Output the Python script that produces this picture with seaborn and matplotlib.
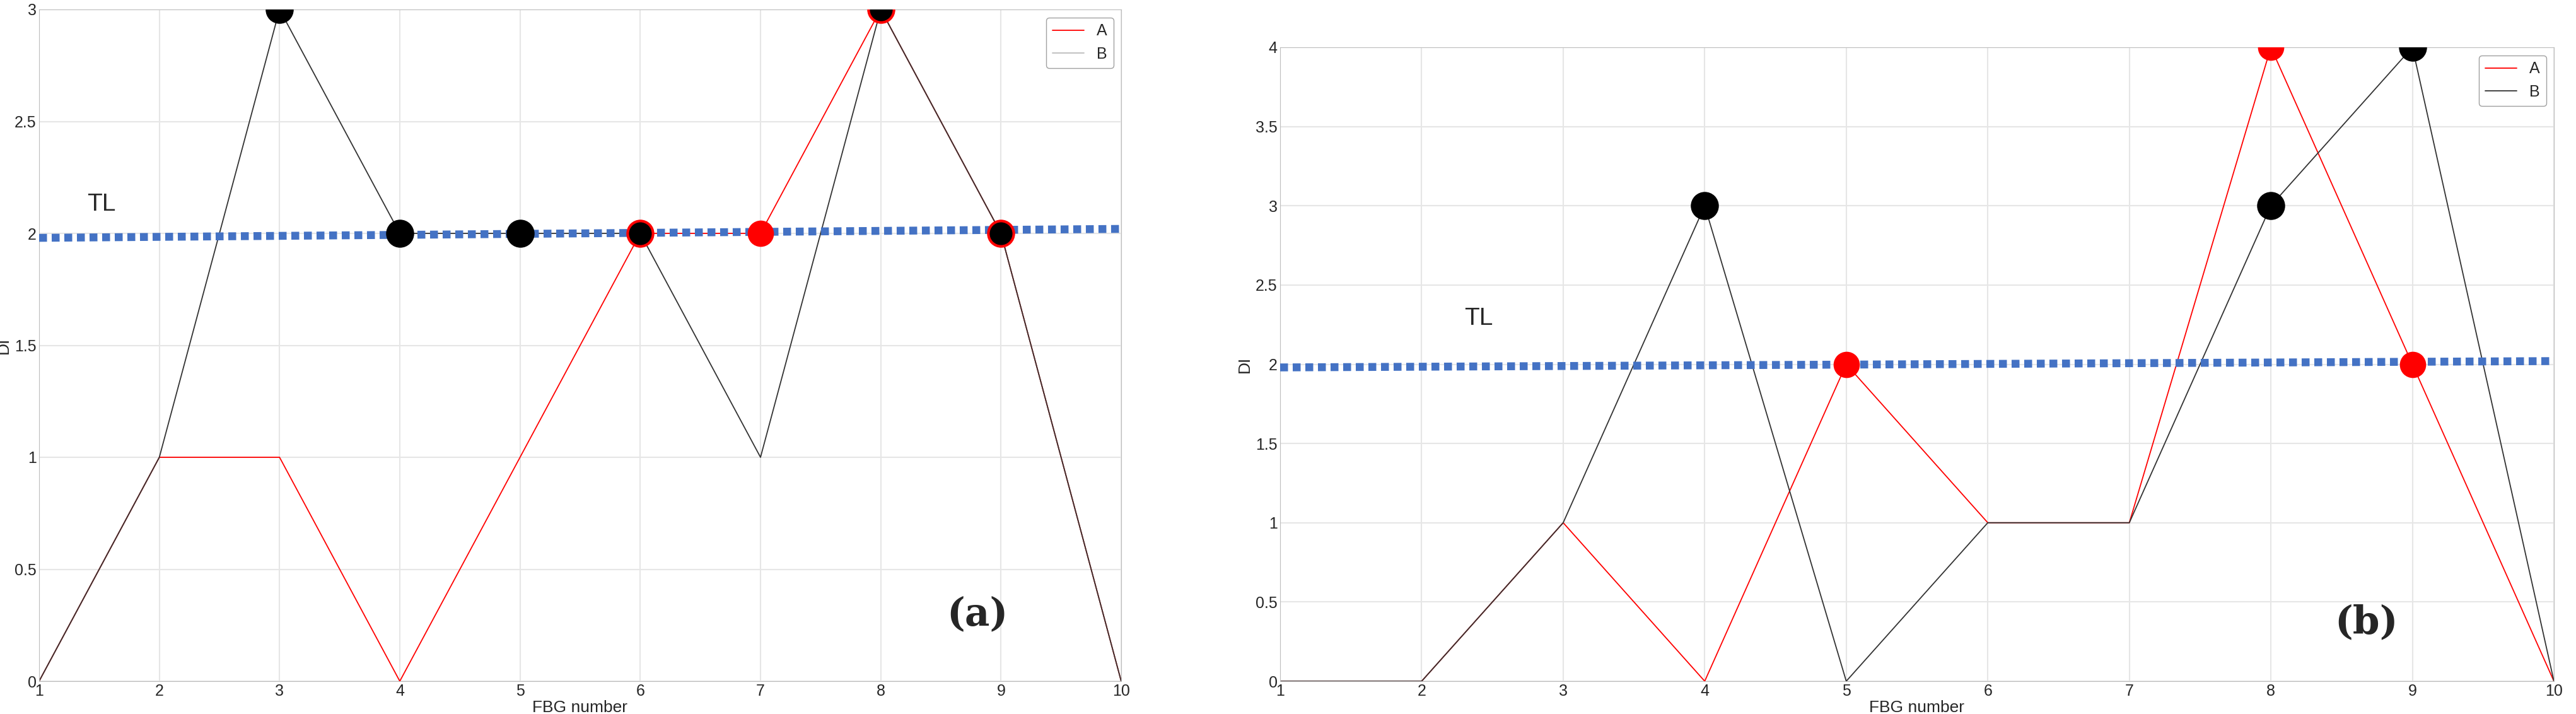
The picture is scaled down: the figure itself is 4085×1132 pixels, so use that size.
import matplotlib
matplotlib.use("Agg")
import matplotlib.pyplot as plt
import seaborn as sns
import pandas as pd

fbg = list(range(1, 11))
a_A = [0, 1, 1, 0, 1, 2, 2, 3, 2, 0]
a_B = [0, 1, 3, 2, 2, 2, 1, 3, 2, 0]
a_red_x = [6, 7, 8, 9]; a_red_y = [2, 2, 3, 2]
a_blk_x = [3, 4, 5, 6, 8, 9]; a_blk_y = [3, 2, 2, 2, 3, 2]
b_A = [0, 0, 1, 0, 2, 1, 1, 4, 2, 0]
b_B = [0, 0, 1, 3, 0, 1, 1, 3, 4, 0]
b_red_x = [5, 8, 9]; b_red_y = [2, 4, 2]
b_blk_x = [4, 8, 9]; b_blk_y = [3, 3, 4]
TL = 2

sns.set_style("white")
plt.rcParams['font.family'] = ['Liberation Sans', 'DejaVu Sans']
fig = plt.figure(figsize=(40.85, 11.32), dpi=100)
ax1 = fig.add_axes([62/4085, 52/1132, (1778-62)/4085, (1080-15)/1132])
ax2 = fig.add_axes([2030/4085, 52/1132, (4050-2030)/4085, (1080-75)/1132])

def panel(ax, A, B, rx, ry, bx, by, ymax, label, tlx, tly, lx, ly, ringed, legcol):
    df = pd.DataFrame({"x": fbg * 2, "y": A + B, "s": ["A"] * 10 + ["B"] * 10})
    sns.lineplot(data=df, x="x", y="y", hue="s", palette={"A": "red", "B": legcol}, lw=1.3, ax=ax)
    ax.lines[1].set_color("#333333")
    ax.plot([1, 10], [TL - 0.02, TL + 0.02], ls=(0, (1, 0.6)), color="#4472c4", lw=9, zorder=3)
    for x, y in zip(bx, by):
        ec = "red" if (x, y) in ringed else "black"
        ax.plot(x, y, 'o', ms=29, mfc="black", mec=ec, mew=3, zorder=5)
    for x, y in zip(rx, ry):
        if (x, y) not in ringed:
            ax.plot(x, y, 'o', ms=29, color="red", zorder=4)
    ax.set_xlim(1, 10); ax.set_ylim(0, ymax)
    ax.set_xticks(fbg)
    ticks = [i * 0.5 for i in range(int(ymax * 2) + 1)]
    ax.set_yticks(ticks)
    ax.set_yticklabels([f"{t:g}" for t in ticks])
    ax.grid(True, color="#e6e6e6", lw=1.5)
    ax.tick_params(labelsize=18, colors="#262626", length=0, pad=3)
    ax.set_xlabel("FBG number", fontsize=19, color="#262626", labelpad=1)
    ax.set_ylabel("DI", fontsize=19, color="#262626", labelpad=4)
    for s in ax.spines.values():
        s.set_color("#bdbdbd")
    ax.text(tlx, tly, "TL", fontsize=28)
    ax.text(lx, ly, label, fontsize=44, fontweight="bold", family="DejaVu Serif")
    leg = ax.legend(loc="upper right", fontsize=18, frameon=True, handlelength=2)
    leg.get_frame().set_edgecolor("#888888")

panel(ax1, a_A, a_B, a_red_x, a_red_y, a_blk_x, a_blk_y, 3, "(a)", 1.4, 2.1, 8.55, 0.25,
      {(8, 3), (9, 2), (6, 2)}, "#bbbbbb")
panel(ax2, b_A, b_B, b_red_x, b_red_y, b_blk_x, b_blk_y, 4, "(b)", 2.3, 2.25, 8.45, 0.3,
      set(), "#333333")
fig.savefig("out.png", dpi=100)
